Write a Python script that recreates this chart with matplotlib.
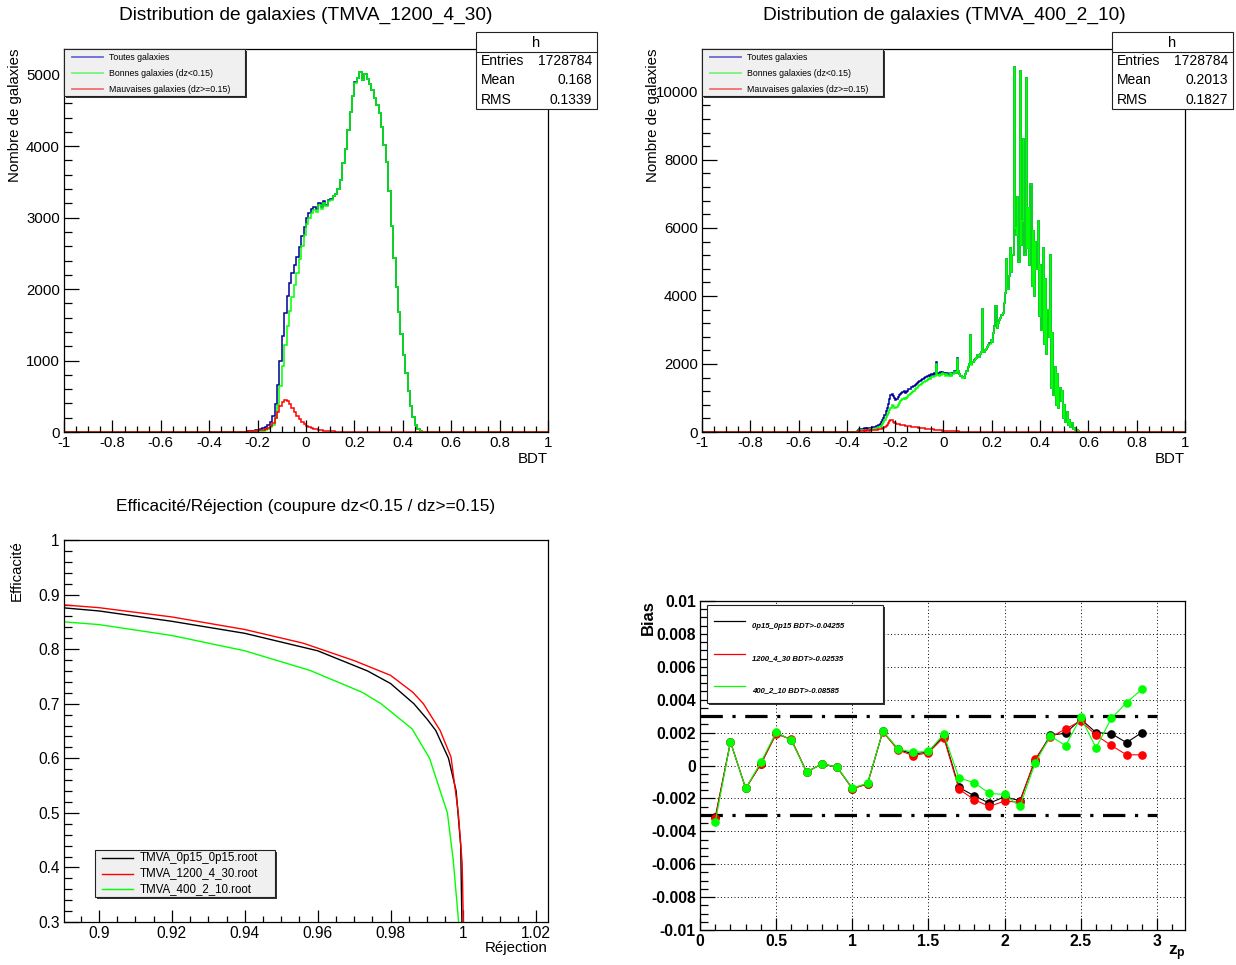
import numpy as np
import matplotlib.pyplot as plt
from matplotlib.ticker import MultipleLocator, FuncFormatter
from matplotlib.patches import Rectangle

plt.rcParams['font.family'] = ['Liberation Sans', 'DejaVu Sans']
plt.rcParams['axes.unicode_minus'] = False
plt.rcParams['mathtext.fontset'] = 'custom'
plt.rcParams['mathtext.rm'] = 'Liberation Sans'
plt.rcParams['mathtext.bf'] = 'Liberation Sans:bold'

# --- BDT distribution, TMVA_1200_4_30 (bins of 0.01 starting at -0.25) ---
tl_start, tl_width = -0.25, 0.01
tl_bonnes = [
    0, 2, 3, 5, 7, 10, 14, 20, 30, 45,
    65, 100, 200, 380, 640, 930, 1220, 1480, 1690, 1890,
    2060, 2230, 2420, 2600, 2760, 2910, 2990, 3060, 3110, 3080,
    3170, 3120, 3210, 3160, 3230, 3250, 3300, 3330, 3400, 3520,
    3760, 3960, 4230, 4480, 4700, 4890, 4960, 5040, 4930, 5010,
    4940, 4870, 4780, 4680, 4570, 4470, 4270, 4020, 3780, 3370,
    2880, 2440, 2030, 1680, 1370, 1080, 820, 570, 370, 210,
    100, 40, 12, 3, 0,
]
tl_mauvaises = [
    5, 8, 10, 14, 18, 22, 26, 32, 40, 55,
    80, 120, 190, 280, 360, 420, 445, 430, 390, 330,
    275, 220, 175, 140, 110, 88, 70, 55, 44, 35,
    28, 22, 18, 14, 11, 9, 7, 6, 5, 4,
    3, 3, 2, 2, 2, 2, 1, 1, 1, 1,
]

# --- BDT distribution, TMVA_400_2_10 (bins of 0.005 starting at -0.36) ---
tr_start, tr_width = -0.36, 0.005
tr_bonnes = [
    20, 35, 45, 50, 55, 60, 60, 65, 60, 70,
    70, 75, 80, 85, 95, 100, 110, 120, 140, 155,
    180, 230, 290, 360, 430, 500, 560, 640, 720, 790,
    760, 720, 700, 740, 790, 850, 900, 950, 980, 1010,
    960, 1000, 1040, 1080, 1110, 1150, 1180, 1210, 1250, 1280,
    1300, 1340, 1370, 1400, 1430, 1460, 1480, 1510, 1540, 1560,
    1580, 1570, 1620, 1610, 1650, 1640, 2000, 1680, 1650, 1700,
    1680, 1720, 1700, 1660, 1700, 1690, 1640, 1720, 1660, 1700,
    1700, 1760, 1720, 2150, 1780, 1700, 1640, 1600, 1620, 1580,
    1700, 1800, 1900, 2000, 2850, 1980, 2050, 2100, 2150, 2180,
    2250, 2200, 2300, 2350, 3620, 2350, 2400, 2450, 2500, 2550,
    2600, 2700, 2650, 2900, 3100, 3700, 3050, 3200, 3300, 3350,
    3450, 3500, 3800, 4100, 5100, 4200, 4600, 5400, 4700, 5200,
    10720, 6000, 5800, 6900, 5000, 10600, 5500, 6200, 8600, 5200,
    10400, 5400, 6600, 4900, 7300, 4300, 5900, 4000, 5600, 4800,
    6200, 3400, 4900, 3000, 5400, 2600, 4500, 2300, 3600, 2800,
    5200, 1300, 2900, 1100, 1900, 800, 1700, 700, 1300, 900,
    1200, 400, 800, 300, 600, 200, 350, 150, 250, 100,
    120, 50, 60, 20,
]
tr_mauvaises = [
    10, 20, 30, 35, 40, 40, 45, 40, 40, 45,
    40, 45, 50, 50, 55, 60, 65, 70, 80, 90,
    100, 110, 130, 150, 180, 220, 270, 320, 360, 340,
    300, 270, 250, 240, 230, 225, 220, 210, 200, 195,
    190, 185, 180, 170, 165, 160, 155, 150, 145, 140,
    135, 130, 125, 120, 115, 110, 105, 100, 95, 90,
    88, 84, 80, 76, 72, 68, 64, 60, 56, 52,
    48, 44, 41, 38, 35, 32, 29, 27, 25, 23,
    21, 19, 17, 16, 15, 14, 13, 12, 11, 10,
    9, 8, 8, 7, 7, 6, 6, 5, 5, 5,
    4, 4, 4, 4, 3, 3, 3, 3, 3, 3,
    2, 2, 2, 2, 2, 2, 2, 2, 1, 1,
]

# --- Efficacité / Réjection ---
rej_0p15 = [0.8904, 0.900, 0.920, 0.940, 0.960, 0.9737, 0.980, 0.9864, 0.990, 0.9924, 0.9959, 0.9980, 0.99925, 0.9996]
eff_0p15 = [0.8756, 0.870, 0.851, 0.829, 0.797, 0.760, 0.737, 0.700, 0.672, 0.651, 0.600, 0.540, 0.440, 0.290]
rej_1200 = [0.8904, 0.900, 0.920, 0.940, 0.956, 0.970, 0.980, 0.9861, 0.989, 0.9936, 0.9966, 0.9986, 0.99965, 1.0000]
eff_1200 = [0.881, 0.876, 0.859, 0.836, 0.811, 0.779, 0.752, 0.721, 0.700, 0.651, 0.602, 0.499, 0.407, 0.290]
rej_400 = [0.8904, 0.900, 0.920, 0.940, 0.9579, 0.9722, 0.9774, 0.9859, 0.9907, 0.9956, 0.9972, 0.9988]
eff_400 = [0.850, 0.845, 0.825, 0.797, 0.761, 0.721, 0.700, 0.654, 0.600, 0.500, 0.413, 0.290]
roc_files = ['TMVA_0p15_0p15.root', 'TMVA_1200_4_30.root', 'TMVA_400_2_10.root']

# --- Biais en fonction de z ---
zp = [0.1, 0.2, 0.3, 0.4, 0.5, 0.6, 0.7, 0.8, 0.9, 1.0, 1.1, 1.2, 1.3, 1.4, 1.5,
      1.6, 1.7, 1.8, 1.9, 2.0, 2.1, 2.2, 2.3, 2.4, 2.5, 2.6, 2.7, 2.8, 2.9]
bias_0p15 = [-0.00316, 0.00143, -0.00139, 0.0001, 0.0020, 0.00155, -0.0004, 0.0001, -0.0001, -0.0014,
             -0.0011, 0.00207, 0.00098, 0.0007, 0.00082, 0.0018, -0.00133, -0.00184, -0.00229, -0.0019,
             -0.00214, 0.0003, 0.00184, 0.00196, 0.00282, 0.0020, 0.00194, 0.00139, 0.0020]
bias_1200 = [-0.0032, 0.00143, -0.00139, 0.00008, 0.0019, 0.0016, -0.0004, 0.0001, -0.0001, -0.0014,
             -0.00114, 0.00206, 0.00094, 0.0006, 0.00078, 0.0017, -0.00143, -0.00208, -0.00249, -0.00216,
             -0.00224, 0.0004, 0.00171, 0.00222, 0.00271, 0.00184, 0.00122, 0.00065, 0.00065]
bias_400 = [-0.00345, 0.00143, -0.00139, 0.0002, 0.00202, 0.00153, -0.00041, 0.0001, -0.0001, -0.00137,
            -0.00108, 0.00208, 0.00102, 0.0008, 0.00086, 0.0019, -0.00076, -0.00104, -0.0017, -0.00176,
            -0.00249, 0.00014, 0.0018, 0.0012, 0.00292, 0.00108, 0.00286, 0.00382, 0.00463]
bias_labels = ['0p15_0p15 BDT>-0.04255', '1200_4_30 BDT>-0.02535', '400_2_10 BDT>-0.08585']
bias_cut = 0.003
z_cut_max = 3.0

W, H = 1236, 965
fig = plt.figure(figsize=(W / 100, H / 100), dpi=100)
fig.patch.set_facecolor('white')


def pad(l, t, r, b):
    return fig.add_axes([l / W, 1 - b / H, (r - l) / W, (b - t) / H])


def fmt(v, pos):
    v = round(v, 6) + 0.0
    return f'{v:g}'


def root_style(ax, bold=False, size=10.8):
    ax.tick_params(which='both', direction='in', top=False, right=False, labelsize=size)
    ax.tick_params(axis='y', which='major', length=10.5, width=0.9, pad=3)
    ax.tick_params(axis='y', which='minor', length=5.5, width=0.9)
    ax.tick_params(axis='x', which='major', length=8.5, width=0.9, pad=3)
    ax.tick_params(axis='x', which='minor', length=4.5, width=0.9)
    ax.xaxis.set_major_formatter(FuncFormatter(fmt))
    ax.yaxis.set_major_formatter(FuncFormatter(fmt))
    for s in ax.spines.values():
        s.set_linewidth(0.9)
    if bold:
        for lab in ax.get_xticklabels() + ax.get_yticklabels():
            lab.set_fontweight('bold')


def full_hist(start, width, good, bad):
    n = int(round(2 / width))
    edges = np.linspace(-1, 1, n + 1)
    i0 = int(round((start + 1) / width))
    g = np.zeros(n)
    b = np.zeros(n)
    g[i0:i0 + len(good)] = good
    b[i0:i0 + len(bad)] = bad
    return edges, g, b


c_blue, c_green, c_red = '#000099', '#00ff00', '#ff0000'

# BDT histograms
for (l, r), (start, width, good, bad), ymax, ystep in [
        ((64, 548), (tl_start, tl_width, tl_bonnes, tl_mauvaises), 5360, 1000),
        ((702, 1185), (tr_start, tr_width, tr_bonnes, tr_mauvaises), 11260, 2000)]:
    ax = pad(l, 49, r, 432)
    edges, g, b = full_hist(start, width, good, bad)
    ax.stairs(g + b, edges, color=c_blue, lw=1.1)
    ax.stairs(g, edges, color=c_green, lw=1.1)
    ax.stairs(b, edges, color=c_red, lw=1.1)
    ax.set_xlim(-1, 1)
    ax.set_ylim(0, ymax)
    ax.xaxis.set_major_locator(MultipleLocator(0.2))
    ax.xaxis.set_minor_locator(MultipleLocator(0.05))
    ax.yaxis.set_major_locator(MultipleLocator(ystep))
    ax.yaxis.set_minor_locator(MultipleLocator(ystep / 5))
    root_style(ax)

# ROC curves
ax3 = pad(64, 540, 548, 922)
for x, y, c, lab in [(rej_0p15, eff_0p15, 'black', roc_files[0]),
                     (rej_1200, eff_1200, c_red, roc_files[1]),
                     (rej_400, eff_400, c_green, roc_files[2])]:
    ax3.plot(x, y, color=c, lw=1.0, label=lab)
ax3.set_xlim(0.8904, 1.0232)
ax3.set_ylim(0.3, 1.0)
ax3.xaxis.set_major_locator(MultipleLocator(0.02))
ax3.xaxis.set_minor_locator(MultipleLocator(0.005))
ax3.yaxis.set_major_locator(MultipleLocator(0.1))
ax3.yaxis.set_minor_locator(MultipleLocator(0.02))
root_style(ax3, size=11.2)

# Bias vs z
ax4 = pad(700, 601, 1185, 930)
ax4.grid(True, which='major', linestyle=(0, (1, 2.5)), color='black', lw=0.7)
ax4.set_axisbelow(True)
ax4.hlines([bias_cut, -bias_cut], 0, z_cut_max, colors='black', lw=2.3,
           linestyles=[(0, (7, 3, 1, 3))])
for y, c in [(bias_0p15, 'black'), (bias_1200, c_red), (bias_400, c_green)]:
    ax4.plot(zp, y, color=c, lw=0.8, marker='o', ms=5.2, mec=c, mfc=c)
ax4.set_xlim(0, 3.184)
ax4.set_ylim(-0.01, 0.01)
ax4.xaxis.set_major_locator(MultipleLocator(0.5))
ax4.xaxis.set_minor_locator(MultipleLocator(0.1))
ax4.yaxis.set_major_locator(MultipleLocator(0.002))
ax4.yaxis.set_minor_locator(MultipleLocator(0.0005))
root_style(ax4, bold=True, size=11.3)

# overlay in pixel units for titles, legends and stats boxes
ov = fig.add_axes([0, 0, 1, 1])
ov.set_xlim(0, W)
ov.set_ylim(H, 0)
ov.axis('off')
ov.set_zorder(10)

ov.text(306, 15, 'Distribution de galaxies (TMVA_1200_4_30)', ha='center', va='center', fontsize=13.8)
ov.text(944, 15, 'Distribution de galaxies (TMVA_400_2_10)', ha='center', va='center', fontsize=13.8)
ov.text(306, 507, 'Efficacité/Réjection (coupure dz<0.15 / dz>=0.15)', ha='center', va='center', fontsize=12.4)

ov.text(15, 49, 'Nombre de galaxies', rotation=90, ha='center', va='top', fontsize=10.8)
ov.text(653, 49, 'Nombre de galaxies', rotation=90, ha='center', va='top', fontsize=10.8)
ov.text(548, 459, 'BDT', ha='right', va='center', fontsize=10.8)
ov.text(1185, 459, 'BDT', ha='right', va='center', fontsize=10.8)
ov.text(17, 540, 'Efficacité', rotation=90, ha='center', va='top', fontsize=10.8)
ov.text(548, 948, 'Réjection', ha='right', va='center', fontsize=10.8)
ov.text(648, 600, 'Bias', rotation=90, ha='center', va='top', fontsize=12, fontweight='bold')
ov.text(1186, 953, r'$\mathbf{z_p}$', ha='right', va='center', fontsize=12.5)


def box(x0, y0, x1, y1, face, shadow=2):
    if shadow:
        ov.add_patch(Rectangle((x0 + shadow, y0 + shadow), x1 - x0, y1 - y0,
                               facecolor='#333333', edgecolor='none'))
    ov.add_patch(Rectangle((x0, y0), x1 - x0, y1 - y0, facecolor=face,
                           edgecolor='#222222', lw=0.8))


# histogram legends
hist_entries = [('Toutes galaxies', '#6a6ad2'),
                ('Bonnes galaxies (dz<0.15)', '#7cf27c'),
                ('Mauvaises galaxies (dz>=0.15)', '#f27070')]
for x0 in (64, 702):
    box(x0, 49, x0 + 181, 96, '#f0f0f0')
    for k, (lab, c) in enumerate(hist_entries):
        yy = 57 + 16 * k
        ov.plot([x0 + 8, x0 + 39], [yy, yy], color=c, lw=1.3)
        ov.text(x0 + 45, yy, lab, ha='left', va='center', fontsize=6.3)

# stats boxes
for x0, mean, rms in [(476, '0.168', '0.1339'), (1112, '0.2013', '0.1827')]:
    box(x0, 32, x0 + 121, 109, 'white', shadow=1)
    ov.plot([x0, x0 + 121], [52, 52], color='#222222', lw=0.8)
    ov.text(x0 + 60.5, 43, 'h', ha='center', va='center', fontsize=10.5)
    for k, (name, val) in enumerate([('Entries', '1728784'), ('Mean', mean), ('RMS', rms)]):
        yy = 61 + 19.5 * k
        ov.text(x0 + 5, yy, name, ha='left', va='center', fontsize=10)
        ov.text(x0 + 116, yy, val, ha='right', va='center', fontsize=10)

# ROC legend
box(95, 850, 275, 897, '#f0f0f0')
for k, (lab, c) in enumerate(zip(roc_files, ['black', c_red, c_green])):
    yy = 858 + 15.5 * k
    ov.plot([102, 133], [yy, yy], color=c, lw=1.0)
    ov.text(140, yy, lab, ha='left', va='center', fontsize=8.3)

# bias legend
box(707, 605, 883, 703, 'white')
for k, (lab, c) in enumerate(zip(bias_labels, ['black', c_red, c_green])):
    yy = 621 + 32.5 * k
    ov.plot([714, 745], [yy, yy], color=c, lw=0.9)
    ov.text(752, yy + 5, lab, ha='left', va='center', fontsize=5.6,
            fontweight='bold', fontstyle='italic')

fig.savefig('out.png', dpi=100)
